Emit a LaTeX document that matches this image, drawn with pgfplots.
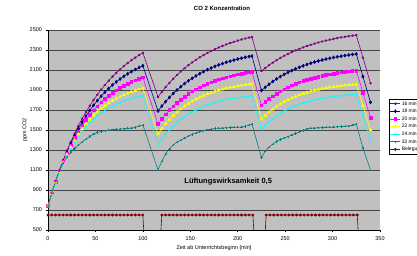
\documentclass[border=0pt]{standalone}
\usepackage{fontspec}
\setmainfont{Liberation Sans}
\usepackage{pgfplots}
\pgfplotsset{compat=1.18}
\usepackage{pgfplotstable}
\definecolor{c16}{RGB}{128,0,128}
\definecolor{c18}{RGB}{0,0,128}
\definecolor{c20}{RGB}{255,0,255}
\definecolor{c22}{RGB}{255,255,0}
\definecolor{c24}{RGB}{0,255,255}
\definecolor{c32}{RGB}{0,128,128}
\definecolor{cbel}{RGB}{128,0,0}
\definecolor{plotgray}{RGB}{192,192,192}
\definecolor{gridc}{RGB}{70,70,70}
\pgfplotstableread{
t p16 p18 p20 p22 p24 p32
0 740 740 740 740 740 740
4 867 866 866 865 865 870
8 985 983 980 978 976 990
12 1095 1090 1085 1079 1075 1090
16 1197 1189 1180 1171 1164 1170
20 1293 1280 1267 1254 1244 1230
24 1381 1364 1347 1328 1315 1275
28 1464 1442 1419 1396 1379 1315
32 1541 1513 1485 1456 1436 1350
36 1613 1579 1546 1511 1486 1380
40 1679 1639 1600 1560 1532 1410
44 1741 1695 1651 1605 1572 1435
48 1799 1747 1696 1645 1609 1460
52 1853 1794 1738 1681 1641 1475
56 1903 1838 1776 1714 1670 1485
60 1950 1878 1811 1743 1696 1492
64 1993 1915 1842 1769 1719 1498
68 2034 1950 1871 1793 1740 1503
72 2071 1981 1898 1815 1759 1507
76 2106 2010 1922 1834 1775 1510
80 2139 2037 1944 1852 1790 1513
84 2169 2062 1964 1868 1803 1516
88 2198 2084 1982 1882 1815 1520
92 2224 2105 1998 1895 1826 1525
96 2249 2125 2014 1906 1835 1540
100 2271 2143 2027 1917 1844 1550
116 1830 1690 1560 1460 1355 1100
120 1881 1739 1611 1513 1410 1190
124 1928 1784 1657 1561 1458 1260
128 1971 1826 1699 1604 1502 1310
132 2012 1865 1737 1643 1541 1350
136 2050 1900 1772 1678 1576 1380
140 2085 1933 1804 1710 1607 1400
144 2117 1964 1834 1738 1635 1420
148 2148 1992 1860 1764 1660 1440
152 2176 2017 1885 1787 1682 1455
156 2202 2041 1907 1808 1702 1470
160 2227 2063 1927 1827 1720 1483
164 2249 2084 1946 1844 1736 1493
168 2270 2103 1963 1860 1751 1502
172 2290 2120 1978 1874 1764 1508
176 2308 2136 1992 1886 1775 1515
180 2325 2151 2005 1898 1785 1518
184 2341 2164 2017 1908 1795 1520
188 2356 2177 2028 1917 1803 1522
192 2369 2188 2038 1926 1810 1524
196 2382 2199 2047 1933 1817 1526
200 2394 2209 2055 1940 1823 1528
204 2405 2218 2062 1946 1828 1530
208 2415 2227 2069 1952 1833 1535
212 2424 2234 2075 1957 1837 1550
215 2431 2240 2080 1960 1840 1560
225 2090 1895 1745 1607 1505 1225
229 2120 1927 1779 1644 1544 1290
233 2148 1957 1810 1677 1580 1330
237 2174 1985 1838 1707 1611 1360
241 2198 2011 1863 1734 1640 1385
245 2221 2034 1887 1759 1665 1405
249 2242 2056 1908 1781 1687 1420
253 2261 2076 1928 1801 1708 1433
257 2279 2094 1946 1819 1726 1450
261 2296 2112 1962 1835 1742 1465
265 2312 2127 1977 1850 1757 1480
269 2326 2142 1990 1863 1770 1495
273 2340 2155 2003 1875 1781 1512
277 2352 2168 2014 1886 1792 1518
281 2364 2179 2024 1896 1801 1520
285 2375 2190 2034 1905 1809 1522
289 2385 2200 2042 1913 1817 1524
293 2394 2209 2050 1920 1823 1526
297 2403 2217 2057 1926 1829 1528
301 2411 2225 2064 1932 1835 1530
305 2419 2232 2070 1937 1839 1532
309 2426 2238 2075 1942 1844 1534
313 2432 2244 2080 1946 1847 1536
317 2438 2250 2085 1950 1851 1540
321 2444 2255 2089 1954 1854 1550
325 2449 2260 2093 1957 1857 1560
332 2224 2035 1874 1744 1640 1320
340 1967 1777 1623 1500 1393 1100
}\co
\pgfplotstableread{
t b
0 650
4 650
8 650
12 650
16 650
20 650
24 650
28 650
32 650
36 650
40 650
44 650
48 650
52 650
56 650
60 650
64 650
68 650
72 650
76 650
80 650
84 650
88 650
92 650
96 650
100 650
104 0
116 0
120 650
124 650
128 650
132 650
136 650
140 650
144 650
148 650
152 650
156 650
160 650
164 650
168 650
172 650
176 650
180 650
184 650
188 650
192 650
196 650
200 650
204 650
208 650
212 650
216 650
220 0
226 0
230 650
234 650
238 650
242 650
246 650
250 650
254 650
258 650
262 650
266 650
270 650
274 650
278 650
282 650
286 650
290 650
294 650
298 650
302 650
306 650
310 650
314 650
318 650
322 650
326 650
330 0
}\beleg
\begin{document}
\begin{tikzpicture}
\path[use as bounding box] (0,0) rectangle (417pt,256pt);
\begin{axis}[
  at={(48pt,26pt)}, anchor=south west,
  scale only axis, width=332pt, height=200pt,
  xmin=0, xmax=350, ymin=500, ymax=2500,
  xtick={0,50,...,350}, ytick={500,700,...,2500},
  axis x line*=bottom, axis y line*=left,
  axis line style={black, line width=0.5pt},
  axis background/.style={fill=plotgray},
  ymajorgrids, major grid style={line width=0.6pt, color=gridc},
  tick align=outside, major tick length=2.5pt,
  tick style={black, line width=0.5pt},
  every tick label/.append style={font=\fontsize{5.5}{6}\selectfont},
  xticklabel style={yshift=-1pt},
  /pgf/number format/assume math mode=true,
  /pgf/number format/1000 sep={},
  scaled ticks=false,
  title={CO 2 Konzentration},
  title style={font=\bfseries\fontsize{6}{7}\selectfont, at={(axis description cs:0.524,1.08)}, anchor=center},
  xlabel={Zeit ab Unterrichtsbeginn [min]},
  ylabel={ppm CO2},
  xlabel style={font=\fontsize{5.5}{6}\selectfont, at={(axis description cs:0.5,-0.09)}, anchor=center},
  ylabel style={font=\fontsize{5.5}{6}\selectfont, at={(axis description cs:-0.069,0.5)}, anchor=center},
  legend cell align=left,
  legend style={at={(axis description cs:1.027,0.655)}, anchor=north west, draw=black, line width=0.4pt, fill=white,
    font=\fontsize{5}{6}\selectfont, inner sep=1pt, row sep=0.6pt,
    nodes={inner sep=1pt, text height=4pt, text depth=1pt}},
  legend image code/.code={\draw[mark repeat=2,mark phase=2,#1] plot coordinates {(0pt,0pt) (5pt,0pt) (10pt,0pt)};},
]
\addplot[color=c16, line width=0.6pt, mark=asterisk, mark size=1.2pt, mark options={solid}] table[x=t,y=p16]{\co};
\addlegendentry{16 min}
\addplot[color=c18, line width=0.6pt, mark=diamond*, mark size=1.5pt, mark options={solid}] table[x=t,y=p18]{\co};
\addlegendentry{18 min}
\addplot[color=c20, line width=0.6pt, mark=square*, mark size=1.3pt, mark options={solid}] table[x=t,y=p20]{\co};
\addlegendentry{20 min}
\addplot[color=c22, line width=0.6pt, mark=triangle*, mark size=1.6pt, mark options={solid}] table[x=t,y=p22]{\co};
\addlegendentry{22 min}
\addplot[color=c24, line width=0.6pt, mark=x, mark size=1.1pt, mark options={solid}] table[x=t,y=p24]{\co};
\addlegendentry{24 min}
\addplot[color=c32, line width=0.6pt, mark=+, mark size=1.1pt, mark options={solid}] table[x=t,y=p32]{\co};
\addlegendentry{32 min}
\addplot[color=cbel, line width=0.6pt, mark=*, mark size=1.1pt, mark options={solid}] table[x=t,y=b]{\beleg};
\addlegendentry{Belegung}
\node[font=\bfseries\fontsize{7.5}{8.5}\selectfont] at (axis cs:190,980) {Lüftungswirksamkeit 0,5};
\end{axis}
\end{tikzpicture}
\end{document}
